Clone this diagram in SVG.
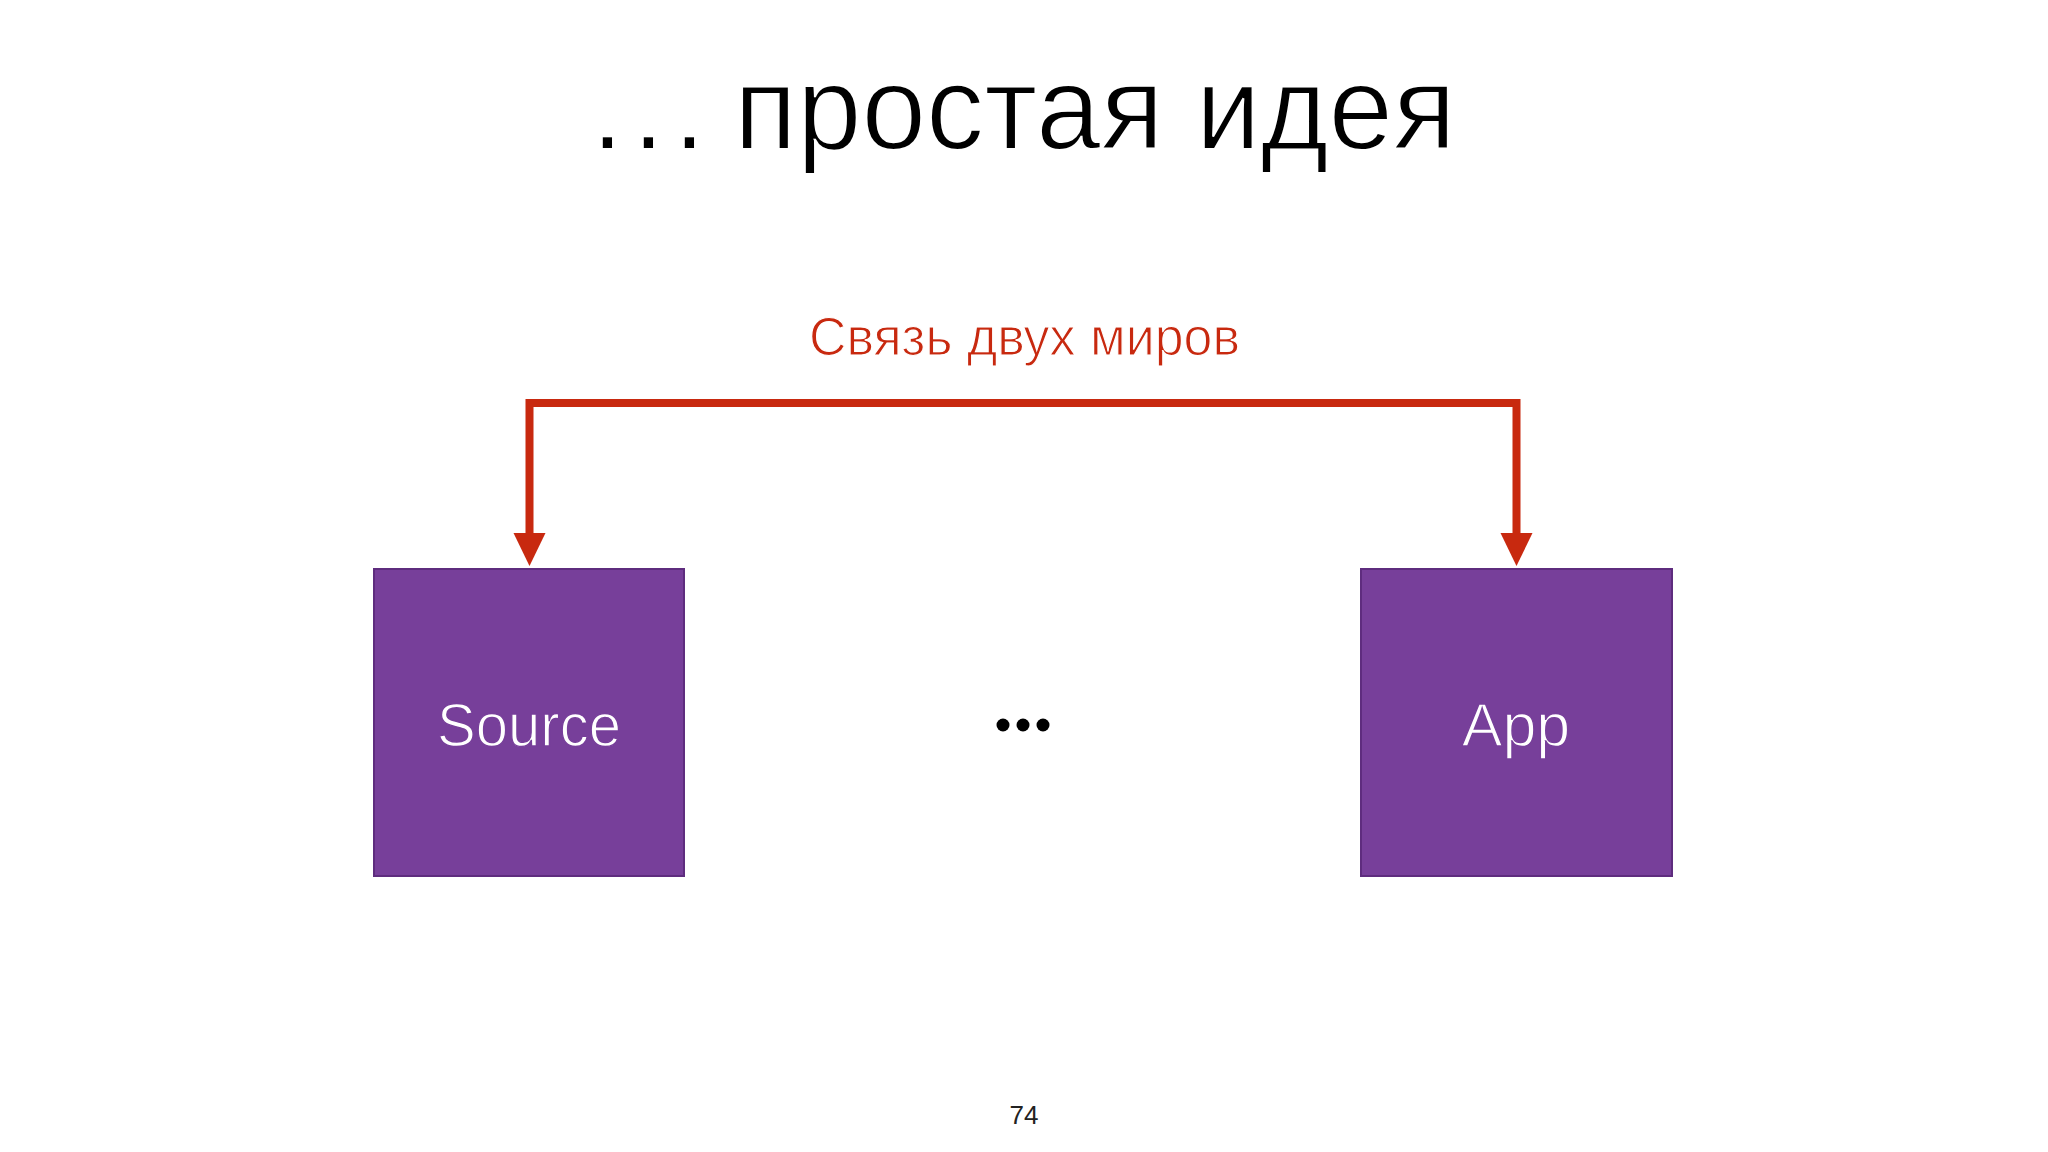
<svg xmlns="http://www.w3.org/2000/svg" width="2048" height="1152" viewBox="0 0 2048 1152">
  <defs>
    <style>
      .title { font-family: "Liberation Sans", Arial, sans-serif; font-size: 118px; fill: #000; stroke: #FFFFFF; stroke-width: 2; }
      .label { font-family: "Liberation Sans", Arial, sans-serif; font-size: 53px; fill: #C8290F; stroke: #FFFFFF; stroke-width: 1.2; }
      .node rect { fill: #773F9A; stroke: #5E2C7E; stroke-width: 2; }
      .node text { font-family: "Liberation Sans", Arial, sans-serif; font-size: 61px; fill: #FFFFFF; stroke: #773F9A; stroke-width: 1.4; text-anchor: middle; }
      .conn { fill: none; stroke: #C8290F; stroke-width: 8; stroke-linejoin: miter; }
      .head { fill: #C8290F; }
      .page { font-family: "Liberation Sans", Arial, sans-serif; font-size: 26px; fill: #222; text-anchor: middle; }
    </style>
  </defs>
  <rect width="2048" height="1152" fill="#FFFFFF"/>

  <text class="title" y="149"><tspan x="591 632 673">...</tspan><tspan x="734" textLength="722" lengthAdjust="spacingAndGlyphs">простая идея</tspan></text>

  <text class="label" x="809" y="355" textLength="431" lengthAdjust="spacingAndGlyphs">Связь двух миров</text>

  <g id="connectors">
    <path class="conn" d="M529.5,536 L529.5,403 L1516.5,403 L1516.5,536"/>
    <path class="head" d="M513.5,533 L545.5,533 L529.5,566 Z"/>
    <path class="head" d="M1500.5,533 L1532.5,533 L1516.5,566 Z"/>
  </g>

  <g id="node-source" class="node">
    <rect x="374" y="569" width="310" height="307"/>
    <text x="529" y="746" textLength="184" lengthAdjust="spacingAndGlyphs">Source</text>
  </g>

  <g id="node-app" class="node">
    <rect x="1361" y="569" width="311" height="307"/>
    <text x="1516" y="746">App</text>
  </g>

  <g id="ellipsis" fill="#000">
    <circle cx="1003" cy="725" r="6.5"/>
    <circle cx="1023" cy="725" r="6.5"/>
    <circle cx="1043" cy="725" r="6.5"/>
  </g>

  <text class="page" x="1024" y="1124">74</text>
</svg>
